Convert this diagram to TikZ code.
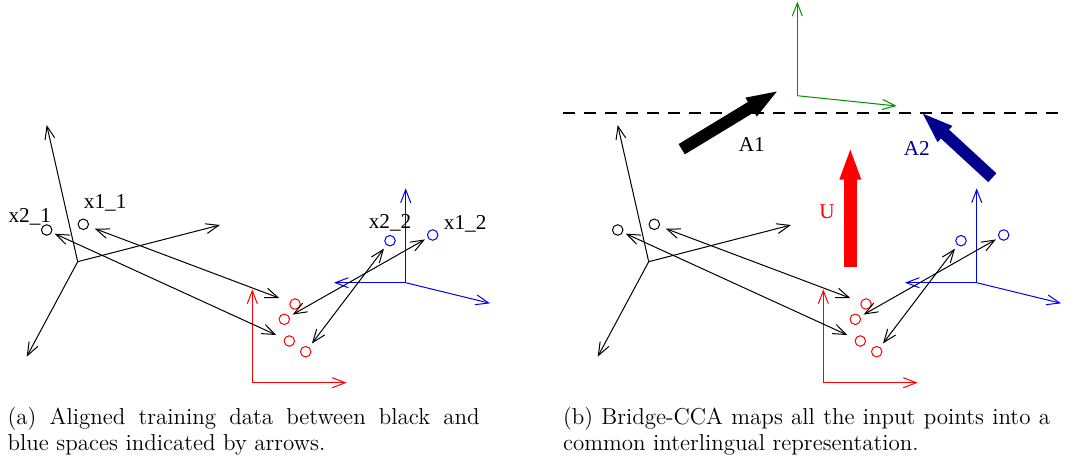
\documentclass[tikz,border=0pt]{standalone}
\usepackage{fontspec}
\newfontfamily\figfont{Liberation Serif}
\usetikzlibrary{arrows.meta,positioning}
\definecolor{figred}{RGB}{255,0,0}
\definecolor{figblue}{RGB}{0,0,255}
\definecolor{figgreen}{RGB}{0,144,0}
\definecolor{fignavy}{RGB}{0,0,140}
\tikzset{
  axisline/.style={-{Straight Barb[length=6.5pt,width=5pt]}, line width=0.5pt},
  pairline/.style={{Straight Barb[length=6.5pt,width=5pt]}-{Straight Barb[length=6.5pt,width=5pt]}, line width=0.5pt},
  point/.style={circle, draw, line width=0.5pt, minimum size=5.25pt, inner sep=0pt},
  ptlabel/.style={font=\figfont\fontsize{10.6}{12}\selectfont, inner sep=0pt},
  bigarrow/.style={-{Triangle[length=16.5pt,width=9.5pt]}, line width=6pt},
  commonline/.style={dash pattern=on 6pt off 4.5pt, line width=1pt},
  captext/.style={align=justify, inner sep=0pt, anchor=north west,
    font=\fontsize{11.5}{13}\selectfont}
}

\begin{document}
\begin{tikzpicture}[x=0.5pt, y=-0.5pt]
\useasboundingbox (0,0) rectangle (1079,465);

% the same three spaces in both panels
\foreach \pn/\dx in {a/0, b/571} {
\begin{scope}[shift={(\dx,0)}, name prefix=\pn-]
  % black space
  \coordinate (ko) at (77.7,261.7);
  \coordinate (kup) at (46.7,125);
  \coordinate (kright) at (220,225);
  \coordinate (kdown) at (26.7,356.7);
  \draw[axisline] (ko) -- (kup);
  \draw[axisline] (ko) -- (kright);
  \draw[axisline] (ko) -- (kdown);
  % red space
  \coordinate (ro) at (252.3,382.7);
  \coordinate (rup) at (252.3,289.3);
  \coordinate (rright) at (346.7,382.7);
  \draw[axisline, figred] (ro) -- (rup);
  \draw[axisline, figred] (ro) -- (rright);
  % blue space
  \coordinate (bo) at (405.7,282.7);
  \coordinate (bup) at (405.7,188.3);
  \coordinate (bleft) at (334,282.7);
  \coordinate (bright) at (490,303.3);
  \draw[axisline, figblue] (bo) -- (bup);
  \draw[axisline, figblue] (bo) -- (bleft);
  \draw[axisline, figblue] (bo) -- (bright);

  \node[point] (x21) at (46.7,230) {};
  \node[point] (x11) at (83.3,224.3) {};
  \node[point, draw=figred] (r1) at (295,304) {};
  \node[point, draw=figred] (r2) at (284.3,319.3) {};
  \node[point, draw=figred] (r3) at (289.3,341) {};
  \node[point, draw=figred] (r4) at (305.7,351.7) {};
  \node[point, draw=figblue] (x22) at (390,240.7) {};
  \node[point, draw=figblue] (x12) at (432.7,235) {};

  \draw[pairline, shorten <=3.2pt, shorten >=5.5pt] (x11) -- (r1);
  \draw[pairline, shorten <=1.5pt, shorten >=4.3pt] (x21) -- (r3);
  \draw[pairline, shorten <=1.9pt, shorten >=1.6pt] (r2) -- (x12);
  \draw[pairline, shorten <=2.3pt, shorten >=2.1pt] (r4) -- (x22);
\end{scope}
}

% point names, left panel
\node[ptlabel, above right=4.4pt and -1.9pt of a-x11] (lx11) {x1\_1};
\node[ptlabel, above left=0pt and -4.4pt of a-x21] (lx21) {x2\_1};
\node[ptlabel, above=1.5pt of a-x22] (lx22) {x2\_2};
\node[ptlabel, above right=-1pt and 3.4pt of a-x12] (lx12) {x1\_2};

% interlingual space, right panel
\coordinate (go) at (797.3,95.7);
\coordinate (gup) at (797.3,1.7);
\coordinate (gright) at (896.7,106);
\draw[axisline, figgreen] (go) -- (gup);
\draw[axisline, figgreen] (go) -- (gright);
\coordinate (cl) at (563,113.3);
\coordinate (cr) at (1060,113.3);
\draw[commonline] (cl) -- (cr);

\coordinate (a1tail) at (681.7,149.2);
\coordinate (a1tip) at (779.3,90);
\coordinate (a2tail) at (992.3,177.7);
\coordinate (a2tip) at (920.7,111.7);
\coordinate (utail) at (850.3,266.7);
\coordinate (utip) at (850.3,146.7);
\draw[bigarrow] (a1tail) -- (a1tip);
\draw[bigarrow, fignavy] (a2tail) -- (a2tip);
\draw[bigarrow, figred, line width=6.5pt] (utail) -- (utip);
\node[ptlabel] (la1) at (751.7,145) {A1};
\node[ptlabel, text=fignavy] (la2) at (916.7,148.3) {A2};
\node[ptlabel, text=figred] (lu) at (827,212) {U};

% captions
\node[captext, text width=236pt] (capa) at (7.3,407)
  {(a) Aligned training data between black and\linebreak blue spaces indicated by arrows.};
\node[captext, text width=243.5pt] (capb) at (562.7,407)
  {(b) Bridge-CCA maps all the input points into a\linebreak common interlingual representation.};
\end{tikzpicture}
\end{document}
